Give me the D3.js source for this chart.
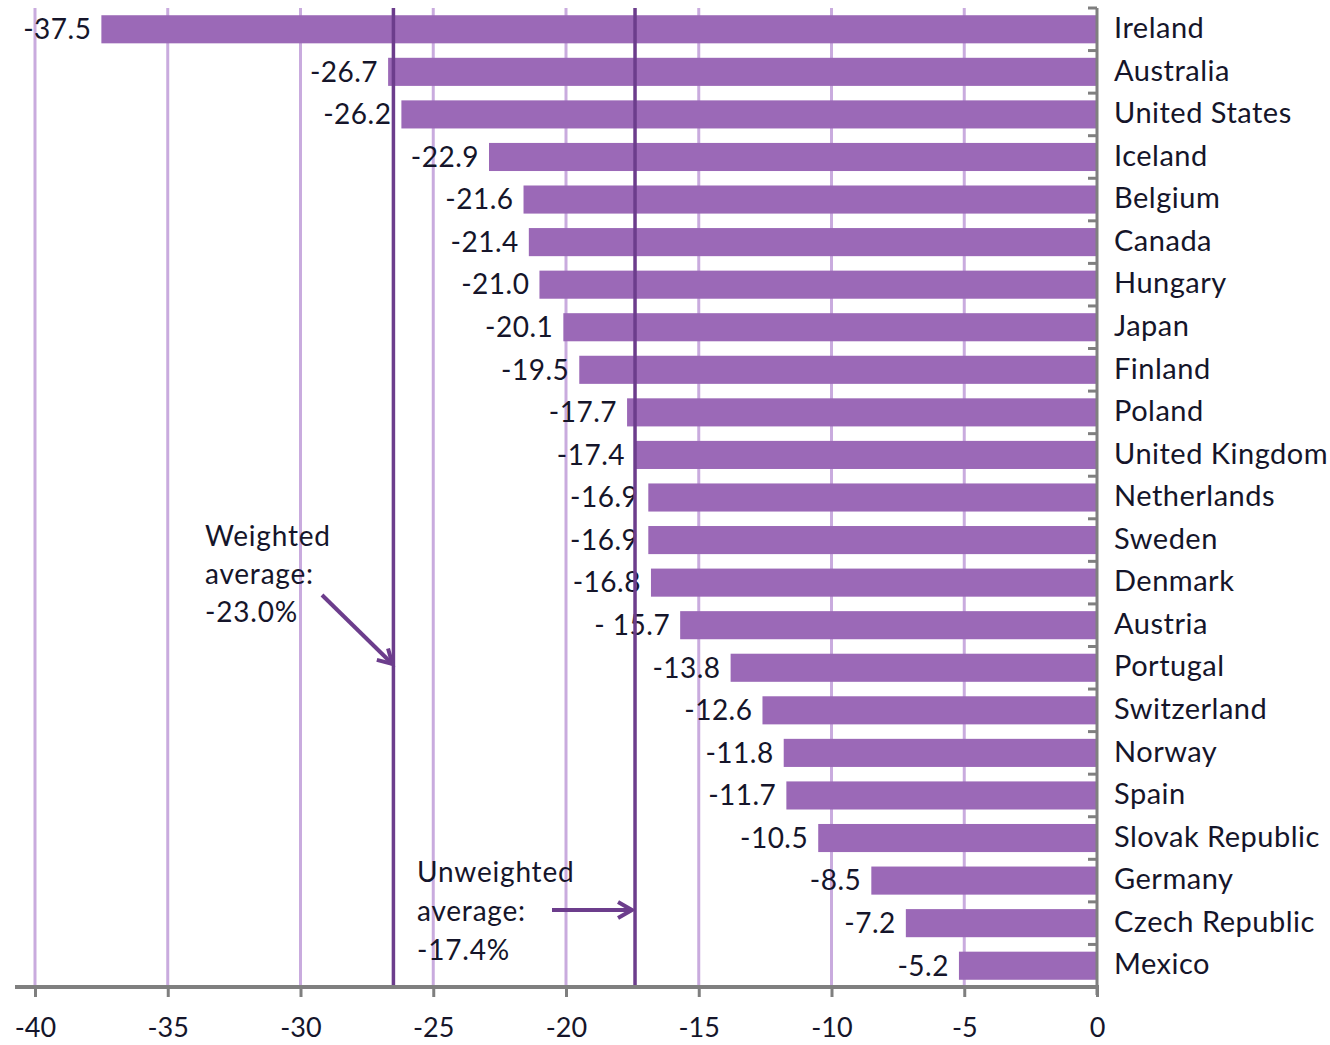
<!DOCTYPE html>
<html>
<head>
<meta charset="utf-8">
<script src="https://cdn.jsdelivr.net/npm/d3@7"></script>
<style>
  body { margin: 0; background: #fff; }
  text { font-family: Lato, "Open Sans", sans-serif; fill: #15152a; }
</style>
</head>
<body>
<svg id="chart" width="1330" height="1045"></svg>
<script>
// countries ordered top to bottom
var countries = ["Ireland", "Australia", "United States", "Iceland", "Belgium", "Canada",
                 "Hungary", "Japan", "Finland", "Poland", "United Kingdom", "Netherlands",
                 "Sweden", "Denmark", "Austria", "Portugal", "Switzerland", "Norway",
                 "Spain", "Slovak Republic", "Germany", "Czech Republic", "Mexico"];
var values = [-37.5, -26.7, -26.2, -22.9, -21.6, -21.4, -21.0, -20.1, -19.5, -17.7, -17.4,
              -16.9, -16.9, -16.8, -15.7, -13.8, -12.6, -11.8, -11.7, -10.5, -8.5, -7.2, -5.2];
var valueLabels = ["-37.5", "-26.7", "-26.2", "-22.9", "-21.6", "-21.4", "-21.0", "-20.1",
                   "-19.5", "-17.7", "-17.4", "-16.9", "-16.9", "-16.8", "- 15.7", "-13.8",
                   "-12.6", "-11.8", "-11.7", "-10.5", "-8.5", "-7.2", "-5.2"];
var xTicks = [-40, -35, -30, -25, -20, -15, -10, -5, 0];
var averageLines = [-26.5, -17.4];
var weightedNote = ["Weighted", "average:", "-23.0%"];
var unweightedNote = ["Unweighted", "average:", "-17.4%"];

var svg = d3.select("#chart");

var plot = { left: 35, right: 1097, top: 8, bottom: 987 };

var x = d3.scaleLinear().domain([-40, 0]).range([plot.left, plot.right]);
var y = d3.scaleBand().domain(countries).range([plot.top, plot.bottom]).paddingInner(0.34).paddingOuter(0.17);

var barColor = "#9b69b7",
    gridColor = "#c9abde",
    lineColor = "#6c3d8c";

svg.append("defs").append("marker")
    .attr("id", "arrow")
    .attr("viewBox", "0 0 10 10")
    .attr("refX", 8).attr("refY", 5)
    .attr("markerWidth", 5).attr("markerHeight", 5)
    .attr("orient", "auto")
  .append("path")
    .attr("d", "M1,1 L8,5 L1,9")
    .attr("fill", "none")
    .attr("stroke", lineColor)
    .attr("stroke-width", 2);

// vertical gridlines
svg.append("g").selectAll("line")
    .data(xTicks.filter(function(d) { return d != 0; }))
    .enter().append("line")
    .attr("x1", function(d) { return x(d); })
    .attr("x2", function(d) { return x(d); })
    .attr("y1", plot.top)
    .attr("y2", plot.bottom)
    .attr("stroke", gridColor)
    .attr("stroke-width", 3);

// bars
svg.append("g").selectAll("rect")
    .data(values)
    .enter().append("rect")
    .attr("x", function(d) { return x(d); })
    .attr("y", function(d, i) { return y(countries[i]); })
    .attr("width", function(d) { return x(0) - x(d); })
    .attr("height", y.bandwidth())
    .attr("fill", barColor);

// value labels
svg.append("g").selectAll("text")
    .data(values)
    .enter().append("text")
    .attr("x", function(d) { return x(d) - 10; })
    .attr("y", function(d, i) { return y(countries[i]) + y.bandwidth() / 2; })
    .attr("dy", "0.35em")
    .attr("text-anchor", "end")
    .style("font-size", "28px")
    .style("letter-spacing", "0.5px")
    .text(function(d, i) { return valueLabels[i]; });

// average lines
svg.append("g").selectAll("line")
    .data(averageLines)
    .enter().append("line")
    .attr("x1", function(d) { return x(d); })
    .attr("x2", function(d) { return x(d); })
    .attr("y1", plot.top)
    .attr("y2", plot.bottom)
    .attr("stroke", lineColor)
    .attr("stroke-width", 3.5);

// x axis
var xAxis = svg.append("g")
    .attr("transform", "translate(0," + plot.bottom + ")")
    .call(d3.axisBottom(x).tickValues(xTicks).tickSize(10).tickPadding(21)
      .tickFormat(function(d) { return d == 0 ? "0" : "-" + Math.abs(d); }));
xAxis.select(".domain").remove();
xAxis.selectAll(".tick line").attr("stroke", "#7f7f7f").attr("stroke-width", 3);
xAxis.selectAll(".tick text").style("font-size", "27px").attr("fill", "#15152a")
    .style("font-family", "Lato, sans-serif");
xAxis.append("line")
    .attr("x1", 15).attr("x2", plot.right + 2)
    .attr("stroke", "#7f7f7f").attr("stroke-width", 4);

// y axis with ticks at category boundaries
var bounds = d3.range(countries.length + 1).map(function(i) {
    return plot.top + i * y.step();
});
var yAxis = svg.append("g");
yAxis.append("line")
    .attr("x1", plot.right).attr("x2", plot.right)
    .attr("y1", plot.top).attr("y2", plot.bottom + 8)
    .attr("stroke", "#7f7f7f").attr("stroke-width", 3);
yAxis.selectAll(".tk")
    .data(bounds)
    .enter().append("line")
    .attr("class", "tk")
    .attr("x1", plot.right - 9).attr("x2", plot.right)
    .attr("y1", function(d) { return d; })
    .attr("y2", function(d) { return d; })
    .attr("stroke", "#7f7f7f").attr("stroke-width", 3);

// country labels
svg.append("g").selectAll("text")
    .data(countries)
    .enter().append("text")
    .attr("x", plot.right + 17)
    .attr("y", function(d) { return y(d) + y.bandwidth() / 2; })
    .attr("dy", "0.3em")
    .style("font-size", "29px")
    .style("letter-spacing", "0.5px")
    .text(function(d) { return d; });

// annotations
function note(lines, x0, y0, gap) {
    svg.append("g").selectAll("text")
        .data(lines)
        .enter().append("text")
        .attr("x", x0)
        .attr("y", function(d, i) { return y0 + i * gap; })
        .style("font-size", "28px")
        .style("letter-spacing", "0.8px")
        .text(function(d) { return d; });
}
note(weightedNote, 205, 546, 38);
note(unweightedNote, 417, 882, 39);

svg.append("line")
    .attr("x1", 322).attr("y1", 595)
    .attr("x2", x(averageLines[0]) - 1).attr("y2", 664)
    .attr("stroke", lineColor).attr("stroke-width", 4)
    .attr("marker-end", "url(#arrow)");
svg.append("line")
    .attr("x1", 552).attr("y1", 910)
    .attr("x2", x(averageLines[1]) - 3).attr("y2", 910)
    .attr("stroke", lineColor).attr("stroke-width", 4)
    .attr("marker-end", "url(#arrow)");
</script>
</body>
</html>
